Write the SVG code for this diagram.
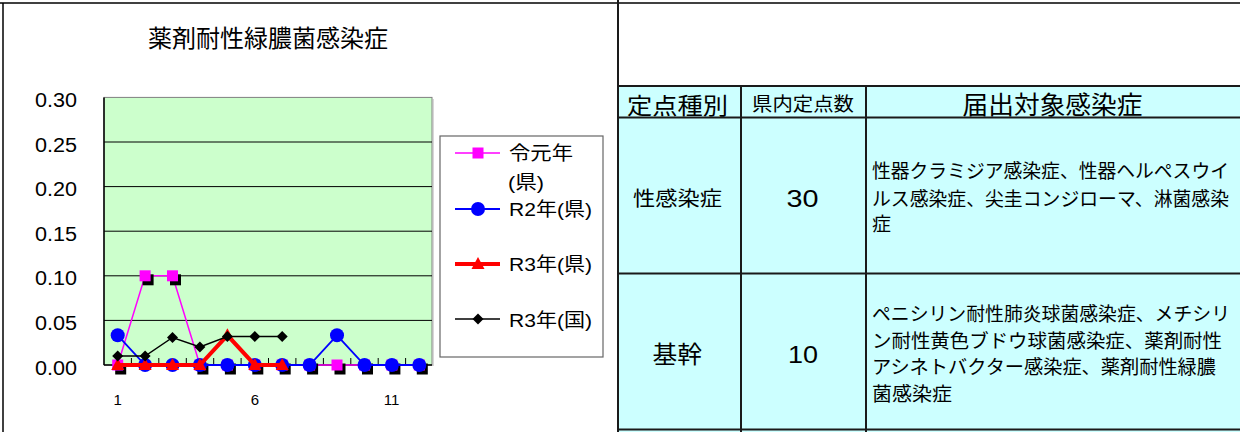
<svg xmlns="http://www.w3.org/2000/svg" width="1240" height="432" viewBox="0 0 1240 432">
<style>
.jp{font-family:"Liberation Sans","Noto Sans CJK JP",sans-serif;fill:#000}
.num{font-family:"Liberation Sans",Arial,sans-serif;fill:#000}
.grid{stroke:#000;stroke-width:1}
.tline{stroke:#1a1a1a;stroke-width:2;fill:none}
.mag{fill:#FF00FF}
.blu{fill:#0000FF}
.red{fill:#FF0000}
.blk{fill:#000}
</style>
<defs>
<rect id="sq" x="-5.5" y="-5.5" width="11" height="11"/>
<circle id="ci" r="7"/>
<polygon id="tri" points="0,-7 6.5,5 -6.5,5"/>
<polygon id="dia" points="0,-5.5 5.5,0 0,5.5 -5.5,0"/>
</defs>
<rect x="0" y="0" width="1240" height="432" fill="#fff"/>
<g id="frame">
<line x1="0" y1="3" x2="1240" y2="3" stroke="#000" stroke-width="1.5"/>
<line x1="3" y1="3" x2="3" y2="432" stroke="#000" stroke-width="1.5"/>
</g>
<g id="chart">
<text class="jp" x="268" y="46.5" font-size="24" text-anchor="middle">薬剤耐性緑膿菌感染症</text>
<rect x="104" y="97.4" width="328" height="267.6" fill="#CCFFCC" stroke="#808080" stroke-width="1"/>
<line x1="433" y1="99" x2="433" y2="366" stroke="#b0b0b0" stroke-width="1"/>
<g class="grid">
<line x1="104" y1="142" x2="432" y2="142"/>
<line x1="104" y1="186.6" x2="432" y2="186.6"/>
<line x1="104" y1="231.2" x2="432" y2="231.2"/>
<line x1="104" y1="275.8" x2="432" y2="275.8"/>
<line x1="104" y1="320.4" x2="432" y2="320.4"/>
</g>
<g id="axes" stroke="#000" stroke-width="1.5">
<line x1="104" y1="97.4" x2="104" y2="365"/>
<line x1="104" y1="365" x2="432" y2="365"/>
<path d="M131.4 365V358M158.8 365V358M186.3 365V358M213.7 365V358M241.1 365V358M268.5 365V358M295.9 365V358M323.4 365V358M350.8 365V358M378.2 365V358M405.6 365V358" stroke-width="1"/>
</g>
<g id="ylabels" font-size="20">
<text class="num" x="35" y="106.9" textLength="42" lengthAdjust="spacingAndGlyphs">0.30</text>
<text class="num" x="35" y="151.5" textLength="42" lengthAdjust="spacingAndGlyphs">0.25</text>
<text class="num" x="35" y="196.1" textLength="42" lengthAdjust="spacingAndGlyphs">0.20</text>
<text class="num" x="35" y="240.7" textLength="42" lengthAdjust="spacingAndGlyphs">0.15</text>
<text class="num" x="35" y="285.3" textLength="42" lengthAdjust="spacingAndGlyphs">0.10</text>
<text class="num" x="35" y="330" textLength="42" lengthAdjust="spacingAndGlyphs">0.05</text>
<text class="num" x="35" y="374.5" textLength="42" lengthAdjust="spacingAndGlyphs">0.00</text>
</g>
<g id="xlabels" font-size="15" text-anchor="middle">
<text class="num" x="117.7" y="405">1</text>
<text class="num" x="254.8" y="405">6</text>
<text class="num" x="391.5" y="405">11</text>
</g>
<g id="series-reiwa1">
<polyline points="117.7,365 145.1,275.8 172.5,275.8 199.9,365 227.4,365 254.8,365 282.2,365 309.6,365 337,365 364.5,365 391.9,365 419.3,365" fill="none" stroke="#FF00FF" stroke-width="1.5"/>
<g class="blk" transform="translate(3,4)">
<use href="#sq" x="117.7" y="365"/><use href="#sq" x="145.1" y="275.8"/><use href="#sq" x="172.5" y="275.8"/><use href="#sq" x="199.9" y="365"/><use href="#sq" x="227.4" y="365"/><use href="#sq" x="254.8" y="365"/><use href="#sq" x="282.2" y="365"/><use href="#sq" x="309.6" y="365"/><use href="#sq" x="337" y="365"/><use href="#sq" x="364.5" y="365"/><use href="#sq" x="391.9" y="365"/><use href="#sq" x="419.3" y="365"/>
</g>
<g class="mag">
<use href="#sq" x="117.7" y="365"/><use href="#sq" x="145.1" y="275.8"/><use href="#sq" x="172.5" y="275.8"/><use href="#sq" x="199.9" y="365"/><use href="#sq" x="227.4" y="365"/><use href="#sq" x="254.8" y="365"/><use href="#sq" x="282.2" y="365"/><use href="#sq" x="309.6" y="365"/><use href="#sq" x="337" y="365"/><use href="#sq" x="364.5" y="365"/><use href="#sq" x="391.9" y="365"/><use href="#sq" x="419.3" y="365"/>
</g>
</g>
<g id="series-r2">
<polyline points="117.7,335.3 145.1,365 172.5,365 199.9,365 227.4,365 254.8,365 282.2,365 309.6,365 337,335.3 364.5,365 391.9,365 419.3,365" fill="none" stroke="#0000FF" stroke-width="1.8"/>
<g class="blu">
<use href="#ci" x="117.7" y="335.3"/><use href="#ci" x="145.1" y="365"/><use href="#ci" x="172.5" y="365"/><use href="#ci" x="199.9" y="365"/><use href="#ci" x="227.4" y="365"/><use href="#ci" x="254.8" y="365"/><use href="#ci" x="282.2" y="365"/><use href="#ci" x="309.6" y="365"/><use href="#ci" x="337" y="335.3"/><use href="#ci" x="364.5" y="365"/><use href="#ci" x="391.9" y="365"/><use href="#ci" x="419.3" y="365"/>
</g>
</g>
<g id="series-r3-pref">
<polyline points="117.7,365 145.1,365 172.5,365 199.9,365 227.4,335.3 254.8,365 282.2,365" fill="none" stroke="#FF0000" stroke-width="4"/>
<g class="red">
<use href="#tri" x="117.7" y="365"/><use href="#tri" x="145.1" y="365"/><use href="#tri" x="172.5" y="365"/><use href="#tri" x="199.9" y="365"/><use href="#tri" x="227.4" y="335.3"/><use href="#tri" x="254.8" y="365"/><use href="#tri" x="282.2" y="365"/>
</g>
</g>
<g id="series-r3-nation">
<polyline points="117.7,356 145.1,356 172.5,337.5 199.9,347 227.4,336.5 254.8,336.5 282.2,336.5" fill="none" stroke="#000" stroke-width="1.5"/>
<g class="blk">
<use href="#dia" x="117.7" y="356"/><use href="#dia" x="145.1" y="356"/><use href="#dia" x="172.5" y="337.5"/><use href="#dia" x="199.9" y="347"/><use href="#dia" x="227.4" y="336.5"/><use href="#dia" x="254.8" y="336.5"/><use href="#dia" x="282.2" y="336.5"/>
</g>
</g>
<g id="legend">
<rect x="440" y="136" width="163" height="221" fill="#fff" stroke="#666" stroke-width="1.2"/>
<line x1="455" y1="153" x2="500" y2="153" stroke="#FF00FF" stroke-width="1.5"/>
<use href="#sq" class="mag" x="478" y="153"/>
<line x1="455" y1="209" x2="500" y2="209" stroke="#0000FF" stroke-width="1.8"/>
<use href="#ci" class="blu" x="478" y="209"/>
<line x1="455" y1="264" x2="500" y2="264" stroke="#FF0000" stroke-width="4"/>
<use href="#tri" class="red" x="478" y="264"/>
<line x1="455" y1="319" x2="500" y2="319" stroke="#000" stroke-width="1.5"/>
<use href="#dia" class="blk" x="478" y="319"/>
<g font-size="19">
<text class="jp" x="509" y="160" textLength="64" lengthAdjust="spacingAndGlyphs">令元年</text>
<text class="jp" x="508" y="188.5" textLength="36" lengthAdjust="spacingAndGlyphs">(県)</text>
<text class="jp" x="509" y="216" textLength="83" lengthAdjust="spacingAndGlyphs">R2年(県)</text>
<text class="jp" x="509" y="271" textLength="83" lengthAdjust="spacingAndGlyphs">R3年(県)</text>
<text class="jp" x="509" y="326.5" textLength="83" lengthAdjust="spacingAndGlyphs">R3年(国)</text>
</g>
</g>
</g>
<g id="table">
<rect x="618" y="86" width="622" height="346" fill="#CCFFFF"/>
<g class="tline">
<line x1="618" y1="0" x2="618" y2="432"/>
<line x1="741" y1="86" x2="741" y2="432"/>
<line x1="866" y1="86" x2="866" y2="432"/>
<line x1="618" y1="86" x2="1240" y2="86"/>
<line x1="618" y1="117.5" x2="1240" y2="117.5"/>
<line x1="618" y1="273.5" x2="1240" y2="273.5"/>
<line x1="618" y1="429.5" x2="1240" y2="429.5"/>
</g>
<g id="header">
<text class="jp" x="627" y="113.5" font-size="23" textLength="101" lengthAdjust="spacingAndGlyphs">定点種別</text>
<text class="jp" x="752" y="111.2" font-size="19" textLength="102" lengthAdjust="spacingAndGlyphs">県内定点数</text>
<text class="jp" x="962.5" y="114" font-size="25" textLength="180" lengthAdjust="spacingAndGlyphs">届出対象感染症</text>
</g>
<g id="row-std">
<text class="jp" x="633" y="206" font-size="20" textLength="89" lengthAdjust="spacingAndGlyphs">性感染症</text>
<text class="num" x="786.5" y="207" font-size="24" textLength="32" lengthAdjust="spacingAndGlyphs">30</text>
<g font-size="19">
<text class="jp" x="872" y="177.8" textLength="357" lengthAdjust="spacingAndGlyphs">性器クラミジア感染症、性器ヘルペスウイ</text>
<text class="jp" x="872" y="205.5" textLength="357" lengthAdjust="spacingAndGlyphs">ルス感染症、尖圭コンジローマ、淋菌感染</text>
<text class="jp" x="872" y="231">症</text>
</g>
</g>
<g id="row-base">
<text class="jp" x="652.5" y="363" font-size="24" textLength="49.5" lengthAdjust="spacingAndGlyphs">基幹</text>
<text class="num" x="788" y="363" font-size="24" textLength="30" lengthAdjust="spacingAndGlyphs">10</text>
<g font-size="19">
<text class="jp" x="872" y="321" textLength="358" lengthAdjust="spacingAndGlyphs">ペニシリン耐性肺炎球菌感染症、メチシリ</text>
<text class="jp" x="872" y="348" textLength="350" lengthAdjust="spacingAndGlyphs">ン耐性黄色ブドウ球菌感染症、薬剤耐性</text>
<text class="jp" x="872" y="373.5" textLength="344" lengthAdjust="spacingAndGlyphs">アシネトバクター感染症、薬剤耐性緑膿</text>
<text class="jp" x="872" y="400.5" textLength="80" lengthAdjust="spacingAndGlyphs">菌感染症</text>
</g>
</g>
</g>
</svg>
